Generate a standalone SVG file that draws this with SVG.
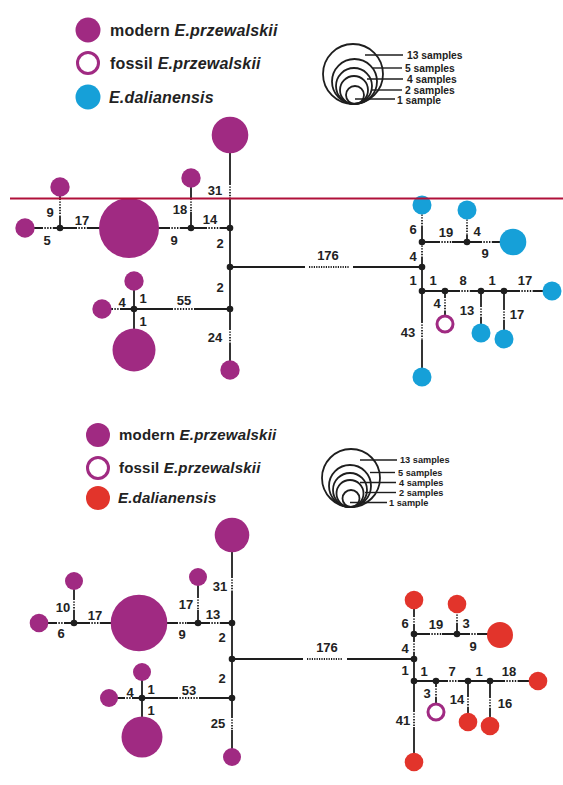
<svg xmlns="http://www.w3.org/2000/svg" width="563" height="785" viewBox="0 0 563 785">
<style>
.e{stroke:#1e1e1e;stroke-width:1.8;fill:none}
.t{stroke:#fff;stroke-width:3;stroke-dasharray:1.4 1.4;fill:none}
.g{stroke:#fff;stroke-width:3;fill:none}
.d{stroke:#1e1e1e;stroke-width:1.8;stroke-dasharray:1.2 1.2;fill:none}
.n{fill:#1e1e1e}
.p{fill:#a02a82}
.b{fill:#16a0d8}
.r{fill:#e2342b}
.f{fill:#fff;stroke:#a02a82;stroke-width:3}
.lbl{font-family:"Liberation Sans",Arial,sans-serif;font-weight:bold;font-size:13px;fill:#222;text-anchor:middle;dominant-baseline:central}
.leg{font-family:"Liberation Sans",Arial,sans-serif;font-weight:bold;fill:#222;letter-spacing:0.2px}
.sc{fill:none;stroke:#1e1e1e;stroke-width:1.8}
.sl{stroke:#1e1e1e;stroke-width:1.4}
.st{font-family:"Liberation Sans",Arial,sans-serif;font-weight:bold;fill:#222;dominant-baseline:central}
</style>
<rect width="563" height="785" fill="#fff"/>

<!-- TOP LEGEND -->
<g id="legend-top">
<circle class="p" cx="88" cy="30" r="12.5"/>
<text class="leg" x="110" y="36" font-size="16">modern <tspan font-style="italic">E.przewalskii</tspan></text>
<circle class="f" cx="88" cy="63" r="10.5"/>
<text class="leg" x="110" y="69" font-size="16">fossil <tspan font-style="italic">E.przewalskii</tspan></text>
<circle class="b" cx="88" cy="97" r="12.5"/>
<text class="leg" x="109" y="103" font-size="16" font-style="italic">E.dalianensis</text>
</g>
<g id="scale-top">
<circle class="sc" cx="353" cy="74" r="30"/>
<circle class="sc" cx="354.5" cy="81.5" r="22.5"/>
<circle class="sc" cx="354" cy="86" r="18"/>
<circle class="sc" cx="354" cy="90" r="14"/>
<circle class="sc" cx="355" cy="95" r="9"/>
<line class="sl" x1="365" y1="55" x2="403" y2="55"/>
<line class="sl" x1="373" y1="68" x2="402" y2="68"/>
<line class="sl" x1="367" y1="79" x2="403" y2="79"/>
<line class="sl" x1="372" y1="90" x2="402" y2="90"/>
<line class="sl" x1="355" y1="99" x2="395" y2="99"/>
<text class="st" x="407" y="55" font-size="10.3">13 samples</text>
<text class="st" x="405" y="68" font-size="10.3">5 samples</text>
<text class="st" x="407" y="79" font-size="10.3">4 samples</text>
<text class="st" x="405" y="90" font-size="10.3">2 samples</text>
<text class="st" x="397" y="100" font-size="10.3">1 sample</text>
</g>

<!-- TOP NETWORK CONNECTORS -->
<g id="edges-top">
<line class="e" x1="230" y1="135" x2="230" y2="370"/>
<line class="e" x1="25" y1="228" x2="230" y2="228"/>
<line class="e" x1="60" y1="187" x2="60" y2="228"/>
<line class="e" x1="191" y1="178" x2="191" y2="228"/>
<line class="e" x1="102" y1="309" x2="230" y2="309"/>
<line class="e" x1="134" y1="281" x2="134" y2="350"/>
<line class="e" x1="230" y1="267" x2="422" y2="267"/>
<line class="e" x1="422" y1="205" x2="422" y2="377"/>
<line class="e" x1="422" y1="242" x2="513" y2="242"/>
<line class="e" x1="467" y1="210" x2="467" y2="242"/>
<line class="e" x1="422" y1="291" x2="552" y2="291"/>
<line class="e" x1="445" y1="291" x2="445" y2="324"/>
<line class="e" x1="481" y1="291" x2="481" y2="333"/>
<line class="e" x1="504" y1="291" x2="504" y2="339"/>
<!-- mutation ticks -->
<line class="t" x1="230" y1="185" x2="230" y2="198"/>
<line class="t" x1="60" y1="200" x2="60" y2="216"/>
<line class="t" x1="43" y1="228" x2="53" y2="228"/>
<line class="t" x1="77" y1="228" x2="88" y2="228"/>
<line class="t" x1="170" y1="228" x2="180" y2="228"/>
<line class="t" x1="191" y1="200" x2="191" y2="212"/>
<line class="t" x1="207" y1="228" x2="220" y2="228"/>
<line class="t" x1="173" y1="309" x2="195" y2="309"/>
<line class="t" x1="113" y1="309" x2="120" y2="309"/>
<line class="t" x1="230" y1="330" x2="230" y2="343"/>
<line class="g" x1="305" y1="267" x2="353" y2="267"/>
<line class="d" x1="309" y1="267" x2="349" y2="267"/>
<line class="t" x1="422" y1="213" x2="422" y2="227"/>
<line class="t" x1="422" y1="244" x2="422" y2="257"/>
<line class="t" x1="422" y1="323" x2="422" y2="340"/>
<line class="t" x1="440" y1="242" x2="452" y2="242"/>
<line class="t" x1="482" y1="242" x2="492" y2="242"/>
<line class="t" x1="467" y1="218" x2="467" y2="235"/>
<line class="t" x1="460" y1="291" x2="470" y2="291"/>
<line class="t" x1="520" y1="291" x2="533" y2="291"/>
<line class="t" x1="445" y1="298" x2="445" y2="312"/>
<line class="t" x1="481" y1="307" x2="481" y2="317"/>
<line class="t" x1="504" y1="310" x2="504" y2="320"/>
</g>
<g id="labels-top">
<text class="lbl" x="215" y="190">31</text>
<text class="lbl" x="50" y="212">9</text>
<text class="lbl" x="47" y="240">5</text>
<text class="lbl" x="82" y="220">17</text>
<text class="lbl" x="174" y="240">9</text>
<text class="lbl" x="180" y="209">18</text>
<text class="lbl" x="210" y="219">14</text>
<text class="lbl" x="220" y="243">2</text>
<text class="lbl" x="220" y="287">2</text>
<text class="lbl" x="184" y="300">55</text>
<text class="lbl" x="143" y="298">1</text>
<text class="lbl" x="122" y="302">4</text>
<text class="lbl" x="143" y="321">1</text>
<text class="lbl" x="215" y="337">24</text>
<text class="lbl" x="328" y="255">176</text>
<text class="lbl" x="413" y="229">6</text>
<text class="lbl" x="413" y="256">4</text>
<text class="lbl" x="413" y="280">1</text>
<text class="lbl" x="408" y="332">43</text>
<text class="lbl" x="446" y="232">19</text>
<text class="lbl" x="477" y="231">4</text>
<text class="lbl" x="485" y="253">9</text>
<text class="lbl" x="433" y="280">1</text>
<text class="lbl" x="463" y="280">8</text>
<text class="lbl" x="492" y="280">1</text>
<text class="lbl" x="525" y="280">17</text>
<text class="lbl" x="437" y="303">4</text>
<text class="lbl" x="467" y="310">13</text>
<text class="lbl" x="517" y="314">17</text>
</g>
<g id="nodes-top">
<g id="t-mv"><circle class="n" cx="60" cy="228" r="3.3"/><circle class="n" cx="191" cy="228" r="3.3"/><circle class="n" cx="230" cy="228" r="3.3"/><circle class="n" cx="230" cy="267" r="3.3"/><circle class="n" cx="230" cy="309" r="3.3"/><circle class="n" cx="134" cy="309" r="3.3"/><circle class="n" cx="422" cy="242" r="3.3"/><circle class="n" cx="422" cy="267" r="3.3"/><circle class="n" cx="422" cy="291" r="3.3"/><circle class="n" cx="467" cy="242" r="3.3"/><circle class="n" cx="445" cy="291" r="3.3"/><circle class="n" cx="481" cy="291" r="3.3"/><circle class="n" cx="504" cy="291" r="3.3"/></g>
<g id="t-h1"><circle class="p" cx="230" cy="135" r="18.3"/></g>
<g id="t-h2"><circle class="p" cx="60" cy="187" r="9.7"/></g>
<g id="t-h3"><circle class="p" cx="25" cy="228" r="9.7"/></g>
<g id="t-h4"><circle class="p" cx="129" cy="228" r="30"/></g>
<g id="t-h5"><circle class="p" cx="191" cy="178" r="9.7"/></g>
<g id="t-h6"><circle class="p" cx="134" cy="281" r="9.7"/></g>
<g id="t-h7"><circle class="p" cx="102" cy="309" r="9.7"/></g>
<g id="t-h8"><circle class="p" cx="134" cy="350" r="21.5"/></g>
<g id="t-h9"><circle class="p" cx="230" cy="370" r="9.7"/></g>
<g id="t-d1"><circle class="b" cx="422" cy="205" r="9.5"/></g>
<g id="t-d2"><circle class="b" cx="467" cy="210" r="9.5"/></g>
<g id="t-d3"><circle class="b" cx="513" cy="242" r="13.3"/></g>
<g id="t-d4"><circle class="b" cx="552" cy="291" r="9.5"/></g>
<g id="t-d5"><circle class="b" cx="481" cy="333" r="9.5"/></g>
<g id="t-d6"><circle class="b" cx="504" cy="339" r="9.5"/></g>
<g id="t-d7"><circle class="b" cx="422" cy="377" r="9.5"/></g>
<g id="t-f1"><circle class="f" cx="445" cy="324" r="8"/></g>
</g>
<g id="red-line"><line x1="10" y1="198.5" x2="563" y2="198.5" stroke="#b0103a" stroke-width="2"/></g>

<!-- BOTTOM LEGEND -->
<g id="legend-bottom">
<circle class="p" cx="98" cy="435" r="12"/>
<text class="leg" x="119" y="440" font-size="15">modern <tspan font-style="italic">E.przewalskii</tspan></text>
<circle class="f" cx="98" cy="468" r="10.5"/>
<text class="leg" x="119" y="473" font-size="15">fossil <tspan font-style="italic">E.przewalskii</tspan></text>
<circle class="r" cx="98" cy="498" r="12"/>
<text class="leg" x="118" y="503" font-size="15" font-style="italic">E.dalianensis</text>
</g>
<g id="scale-bottom">
<circle class="sc" cx="351" cy="478" r="29"/>
<circle class="sc" cx="350" cy="486" r="21"/>
<circle class="sc" cx="350" cy="490" r="17"/>
<circle class="sc" cx="350" cy="493.5" r="13.5"/>
<circle class="sc" cx="351" cy="498.5" r="8.5"/>
<line class="sl" x1="360" y1="460" x2="397" y2="460"/>
<line class="sl" x1="370" y1="472.5" x2="395" y2="472.5"/>
<line class="sl" x1="360" y1="482.5" x2="396" y2="482.5"/>
<line class="sl" x1="365" y1="492.5" x2="396" y2="492.5"/>
<line class="sl" x1="350" y1="502.5" x2="387" y2="502.5"/>
<text class="st" x="400" y="460" font-size="9.2">13 samples</text>
<text class="st" x="398" y="472.5" font-size="9.2">5 samples</text>
<text class="st" x="399" y="482.5" font-size="9.2">4 samples</text>
<text class="st" x="399" y="492.5" font-size="9.2">2 samples</text>
<text class="st" x="389" y="502.5" font-size="9.2">1 sample</text>
</g>

<!-- BOTTOM NETWORK CONNECTORS -->
<g id="edges-bottom">
<line class="e" x1="232" y1="535" x2="232" y2="757"/>
<line class="e" x1="39" y1="623" x2="232" y2="623"/>
<line class="e" x1="74" y1="581" x2="74" y2="623"/>
<line class="e" x1="198" y1="577" x2="198" y2="623"/>
<line class="e" x1="109" y1="698" x2="232" y2="698"/>
<line class="e" x1="142" y1="672" x2="142" y2="737"/>
<line class="e" x1="232" y1="659" x2="414" y2="659"/>
<line class="e" x1="414" y1="600" x2="414" y2="762"/>
<line class="e" x1="414" y1="634" x2="500" y2="634"/>
<line class="e" x1="457" y1="604" x2="457" y2="634"/>
<line class="e" x1="414" y1="681" x2="538" y2="681"/>
<line class="e" x1="436" y1="681" x2="436" y2="712"/>
<line class="e" x1="468" y1="681" x2="468" y2="722"/>
<line class="e" x1="490" y1="681" x2="490" y2="726"/>
<!-- mutation ticks -->
<line class="t" x1="232" y1="578" x2="232" y2="592"/>
<line class="t" x1="74" y1="600" x2="74" y2="610"/>
<line class="t" x1="57" y1="623" x2="65" y2="623"/>
<line class="t" x1="90" y1="623" x2="100" y2="623"/>
<line class="t" x1="178" y1="623" x2="187" y2="623"/>
<line class="t" x1="198" y1="598" x2="198" y2="610"/>
<line class="t" x1="210" y1="623" x2="220" y2="623"/>
<line class="t" x1="178" y1="698" x2="200" y2="698"/>
<line class="t" x1="125" y1="698" x2="132" y2="698"/>
<line class="t" x1="232" y1="718" x2="232" y2="730"/>
<line class="g" x1="303" y1="659" x2="347" y2="659"/>
<line class="d" x1="307" y1="659" x2="343" y2="659"/>
<line class="t" x1="414" y1="617" x2="414" y2="625"/>
<line class="t" x1="414" y1="642" x2="414" y2="652"/>
<line class="t" x1="414" y1="712" x2="414" y2="727"/>
<line class="t" x1="430" y1="634" x2="442" y2="634"/>
<line class="t" x1="470" y1="634" x2="478" y2="634"/>
<line class="t" x1="457" y1="613" x2="457" y2="623"/>
<line class="t" x1="448" y1="681" x2="458" y2="681"/>
<line class="t" x1="505" y1="681" x2="518" y2="681"/>
<line class="t" x1="436" y1="687" x2="436" y2="697"/>
<line class="t" x1="468" y1="697" x2="468" y2="707"/>
<line class="t" x1="490" y1="698" x2="490" y2="708"/>
</g>
<g id="labels-bottom">
<text class="lbl" x="220" y="586">31</text>
<text class="lbl" x="63" y="607">10</text>
<text class="lbl" x="61" y="633">6</text>
<text class="lbl" x="95" y="615">17</text>
<text class="lbl" x="182" y="634">9</text>
<text class="lbl" x="186" y="604">17</text>
<text class="lbl" x="213" y="614">13</text>
<text class="lbl" x="222" y="637">2</text>
<text class="lbl" x="222" y="678">2</text>
<text class="lbl" x="189" y="690">53</text>
<text class="lbl" x="151" y="689">1</text>
<text class="lbl" x="130" y="692">4</text>
<text class="lbl" x="151" y="710">1</text>
<text class="lbl" x="218" y="723">25</text>
<text class="lbl" x="327" y="647">176</text>
<text class="lbl" x="405" y="623">6</text>
<text class="lbl" x="405" y="648">4</text>
<text class="lbl" x="405" y="670">1</text>
<text class="lbl" x="403" y="720">41</text>
<text class="lbl" x="436" y="624">19</text>
<text class="lbl" x="466" y="623">3</text>
<text class="lbl" x="473" y="646">9</text>
<text class="lbl" x="424" y="671">1</text>
<text class="lbl" x="452" y="671">7</text>
<text class="lbl" x="479" y="671">1</text>
<text class="lbl" x="509" y="671">18</text>
<text class="lbl" x="427" y="693">3</text>
<text class="lbl" x="457" y="699">14</text>
<text class="lbl" x="505" y="703">16</text>
</g>
<g id="nodes-bottom">
<g id="b-mv"><circle class="n" cx="74" cy="623" r="3.3"/><circle class="n" cx="198" cy="623" r="3.3"/><circle class="n" cx="232" cy="623" r="3.3"/><circle class="n" cx="232" cy="659" r="3.3"/><circle class="n" cx="232" cy="698" r="3.3"/><circle class="n" cx="142" cy="698" r="3.3"/><circle class="n" cx="414" cy="634" r="3.3"/><circle class="n" cx="414" cy="659" r="3.3"/><circle class="n" cx="414" cy="681" r="3.3"/><circle class="n" cx="457" cy="634" r="3.3"/><circle class="n" cx="436" cy="681" r="3.3"/><circle class="n" cx="468" cy="681" r="3.3"/><circle class="n" cx="490" cy="681" r="3.3"/></g>
<g id="b-h1"><circle class="p" cx="232" cy="535" r="17.3"/></g>
<g id="b-h2"><circle class="p" cx="74" cy="581" r="9"/></g>
<g id="b-h3"><circle class="p" cx="39" cy="623" r="9.3"/></g>
<g id="b-h4"><circle class="p" cx="139" cy="623" r="28.3"/></g>
<g id="b-h5"><circle class="p" cx="198" cy="577" r="9"/></g>
<g id="b-h6"><circle class="p" cx="142" cy="672" r="9"/></g>
<g id="b-h7"><circle class="p" cx="109" cy="698" r="9"/></g>
<g id="b-h8"><circle class="p" cx="142" cy="737" r="20.5"/></g>
<g id="b-h9"><circle class="p" cx="232" cy="757" r="9"/></g>
<g id="b-d1"><circle class="r" cx="414" cy="600" r="9.3"/></g>
<g id="b-d2"><circle class="r" cx="457" cy="604" r="9.3"/></g>
<g id="b-d3"><circle class="r" cx="500" cy="635" r="13"/></g>
<g id="b-d4"><circle class="r" cx="538" cy="681" r="9.3"/></g>
<g id="b-d5"><circle class="r" cx="468" cy="722" r="9.3"/></g>
<g id="b-d6"><circle class="r" cx="490" cy="726" r="9.3"/></g>
<g id="b-d7"><circle class="r" cx="414" cy="762" r="9.3"/></g>
<g id="b-f1"><circle class="f" cx="436" cy="712" r="8"/></g>
</g>
</svg>
